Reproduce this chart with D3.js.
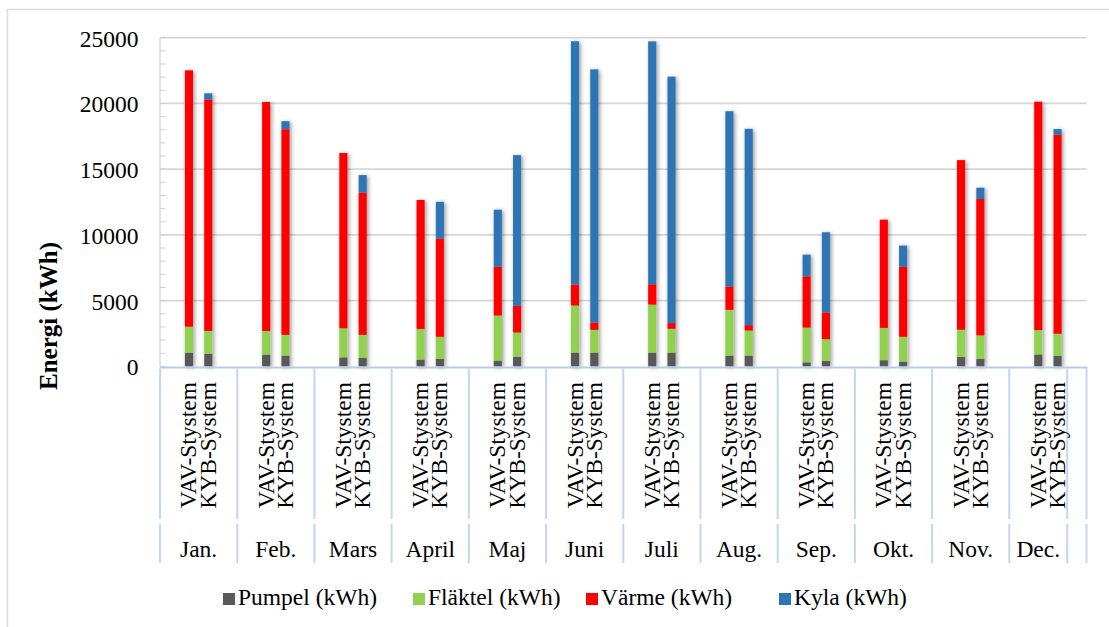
<!DOCTYPE html>
<html>
<head>
<meta charset="utf-8">
<script src="https://cdn.jsdelivr.net/npm/d3@7"></script>
<style>
  html, body { margin: 0; padding: 0; background: #ffffff; }
  svg { display: block; }
  text { font-family: "Liberation Serif", "Times New Roman", serif; fill: #000; }
</style>
</head>
<body>
<svg id="chart" width="1109" height="627"></svg>
<script>
// Monthly energy use (kWh) for the two ventilation systems, split by consumer
const months = ["Jan.", "Feb.", "Mars", "April", "Maj", "Juni", "Juli", "Aug.", "Sep.", "Okt.", "Nov.", "Dec."];
const systems = ["VAV-Stystem", "KYB-System"];
const seriesNames = ["Pumpel (kWh)", "Fläktel (kWh)", "Värme (kWh)", "Kyla (kWh)"];
const seriesColors = ["#595959", "#92d050", "#ff0000", "#2e75b6"];

const vavPumpel  = [1050, 900, 690, 520, 440, 1050, 1050, 820, 310, 470, 710, 910];
const vavFlaktel = [1970, 1790, 2210, 2330, 3430, 3580, 3650, 3480, 2640, 2460, 2080, 1850];
const vavVarme   = [19500, 17420, 13330, 9810, 3700, 1600, 1550, 1780, 3900, 8230, 12900, 17370];
const vavKyla    = [0, 0, 0, 0, 4350, 18500, 18470, 13330, 1650, 0, 0, 0];

const kybPumpel  = [970, 820, 640, 570, 740, 1050, 1050, 820, 420, 360, 580, 810];
const kybFlaktel = [1730, 1580, 1760, 1680, 1840, 1730, 1810, 1910, 1650, 1890, 1780, 1670];
const kybVarme   = [17600, 15640, 10810, 7470, 2030, 560, 430, 410, 2030, 5320, 10370, 15160];
const kybKyla    = [470, 610, 1340, 2800, 11460, 19250, 18750, 14930, 6100, 1620, 860, 410];

const yTicks = [0, 5000, 10000, 15000, 20000, 25000];
const yMinorTicks = d3.range(0, 25001, 1000);

// one row per bar: month x system
const rows = [];
months.forEach((m, i) => {
  rows.push({ month: m, system: systems[0], key: m + "|" + systems[0],
    "Pumpel (kWh)": vavPumpel[i], "Fläktel (kWh)": vavFlaktel[i], "Värme (kWh)": vavVarme[i], "Kyla (kWh)": vavKyla[i] });
  rows.push({ month: m, system: systems[1], key: m + "|" + systems[1],
    "Pumpel (kWh)": kybPumpel[i], "Fläktel (kWh)": kybFlaktel[i], "Värme (kWh)": kybVarme[i], "Kyla (kWh)": kybKyla[i] });
});

const svg = d3.select("#chart");
const plot = { left: 160, right: 1086.5, top: 37.7, bottom: 366.4 };

// outer chart frame
svg.append("rect")
  .attr("x", 7.5).attr("y", 9.5).attr("width", 1110).attr("height", 640)
  .attr("fill", "none").attr("stroke", "#d9d9d9").attr("stroke-width", 1.5);

// each month occupies four slots: spacer, VAV, KYB, spacer
const slots = months.flatMap(m => [m + "|pre", m + "|" + systems[0], m + "|" + systems[1], m + "|post"]);
const x = d3.scaleBand().domain(slots).range([plot.left, plot.right]).padding(0);
const y = d3.scaleLinear().domain([0, 25000]).range([plot.bottom, plot.top]);
const barW = x.bandwidth() * 0.42;

// gridlines
svg.append("g").selectAll("line").data(yTicks.filter(d => d > 0)).join("line")
  .attr("x1", plot.left).attr("x2", plot.right)
  .attr("y1", d => y(d)).attr("y2", d => y(d))
  .attr("stroke", "#d6d6d6").attr("stroke-width", 1.8);

// value axis line with minor ticks
svg.append("line")
  .attr("x1", plot.left).attr("x2", plot.left).attr("y1", plot.top).attr("y2", plot.bottom)
  .attr("stroke", "#d9d9d9").attr("stroke-width", 1.5);
svg.append("g").selectAll("line").data(yMinorTicks).join("line")
  .attr("x1", plot.left).attr("x2", plot.left + 5.5)
  .attr("y1", d => y(d)).attr("y2", d => y(d))
  .attr("stroke", "#cfcfcf").attr("stroke-width", 1);

// value axis labels
const yAxis = d3.axisLeft(y).tickValues(yTicks).tickSize(0).tickPadding(0).tickFormat(d3.format("d"));
const yG = svg.append("g").attr("transform", `translate(138.5,0)`).call(yAxis);
yG.attr("font-family", null);
yG.select(".domain").remove();
yG.selectAll("text")
  .attr("font-size", 23.5).attr("fill", "#000").attr("dy", "0.36em");

// axis title
svg.append("text")
  .attr("transform", "translate(57,316) rotate(-90)")
  .attr("text-anchor", "middle")
  .attr("font-size", 25).attr("font-weight", "bold")
  .text("Energi (kWh)");

// shadow behind each bar
const defs = svg.append("defs");
const f = defs.append("filter").attr("id", "barShadow")
  .attr("x", "-150%").attr("y", "-10%").attr("width", "400%").attr("height", "120%");
f.append("feDropShadow").attr("dx", 1.5).attr("dy", 1).attr("stdDeviation", 2.3)
  .attr("flood-color", "#000").attr("flood-opacity", 0.42);

// stacked bars
const stack = d3.stack().keys(seriesNames);
const stacked = stack(rows);
const columns = rows.map((r, j) => ({
  key: r.key,
  parts: stacked.map((s, k) => ({ series: seriesNames[k], y0: s[j][0], y1: s[j][1] }))
}));

const barG = svg.append("g").selectAll("g.col").data(columns).join("g")
  .attr("class", "col")
  .attr("filter", "url(#barShadow)");
barG.selectAll("rect").data(d => d.parts.filter(p => p.y1 > p.y0).map(p => ({ ...p, key: d.key }))).join("rect")
  .attr("x", d => x(d.key) + (x.bandwidth() - barW) / 2)
  .attr("width", barW)
  .attr("y", d => y(d.y1))
  .attr("height", d => y(d.y0) - y(d.y1))
  .attr("fill", d => seriesColors[seriesNames.indexOf(d.series)]);

// category axis line
svg.append("line")
  .attr("x1", plot.left).attr("x2", plot.right + 1)
  .attr("y1", plot.bottom + 1).attr("y2", plot.bottom + 1)
  .attr("stroke", "#b8cbe9").attr("stroke-width", 2);

// group dividers (Dec group ends one slot early, followed by an empty slot)
const step = x.step();
const dividerIdx = d3.range(0, 45, 4).concat([47, 48]);
const dividerX = dividerIdx.map(i => plot.left + i * step);
const divG = svg.append("g").attr("stroke", "#c6d5ee").attr("stroke-width", 2);
divG.selectAll("line.top").data(dividerX).join("line").attr("class", "top")
  .attr("x1", d => d).attr("x2", d => d).attr("y1", plot.bottom + 2).attr("y2", 519);
divG.selectAll("line.bot").data(dividerX).join("line").attr("class", "bot")
  .attr("x1", d => d).attr("x2", d => d).attr("y1", 524).attr("y2", 563);

// system labels (rotated)
svg.append("g").selectAll("text").data(rows).join("text")
  .attr("transform", d => `translate(${x(d.key) + x.bandwidth() / 2},382) rotate(-90)`)
  .attr("text-anchor", "end")
  .attr("dy", "0.32em")
  .attr("font-size", 23.5)
  .text(d => d.system);

// month labels
const monthSpan = months.map((m, i) => i < 11 ? [i * 4, i * 4 + 4] : [44, 47]);
svg.append("g").selectAll("text").data(months).join("text")
  .attr("x", (m, i) => plot.left + (monthSpan[i][0] + monthSpan[i][1]) / 2 * step)
  .attr("y", 557)
  .attr("text-anchor", "middle")
  .attr("font-size", 23.5)
  .text(d => d);

// legend
const legendX = [223, 413, 586, 779];
const lg = svg.append("g").selectAll("g").data(seriesNames).join("g")
  .attr("transform", (d, i) => `translate(${legendX[i]},0)`);
lg.append("rect").attr("x", 0).attr("y", 593).attr("width", 12).attr("height", 12)
  .attr("fill", (d, i) => seriesColors[i]);
lg.append("text").attr("x", 15).attr("y", 605).attr("font-size", 23.5).text(d => d);
</script>
</body>
</html>
